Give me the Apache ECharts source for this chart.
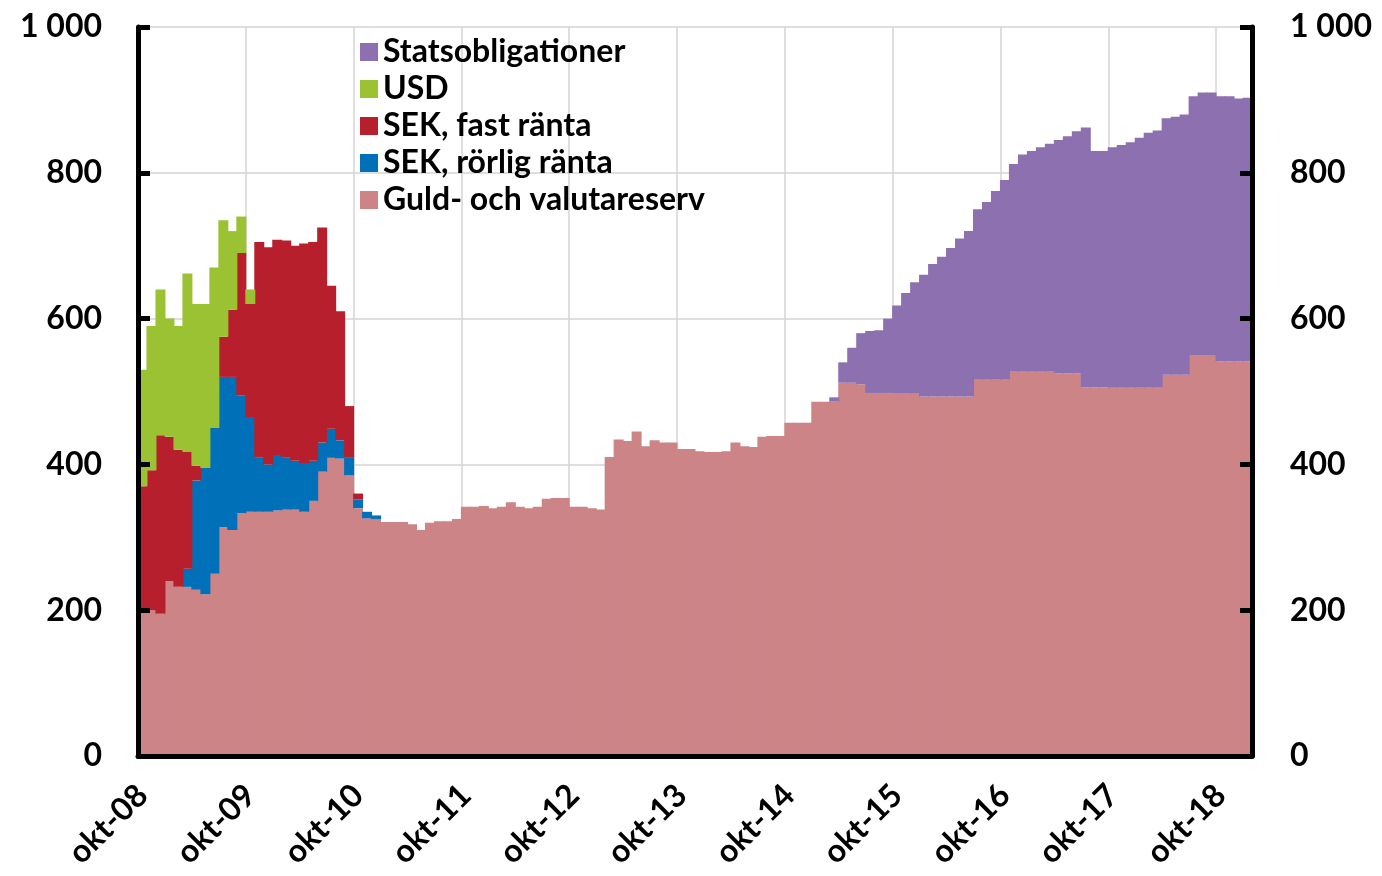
<!DOCTYPE html>
<html>
<head>
<meta charset="utf-8">
<script src="https://cdn.jsdelivr.net/npm/echarts@6/dist/echarts.min.js"></script>
<style>
  html, body { margin: 0; padding: 0; background: #fff; }
  #main { width: 1382px; height: 876px; }
</style>
</head>
<body>
<div id="main"></div>
<script>
'use strict';

// monthly categories okt-08 .. jan-19
const monthNames = ['jan', 'feb', 'mar', 'apr', 'maj', 'jun', 'jul', 'aug', 'sep', 'okt', 'nov', 'dec'];
const categories = [];
for (let i = 0; i < 124; i++) {
  const m = (9 + i) % 12;
  const y = 8 + Math.floor((9 + i) / 12);
  categories.push(monthNames[m] + '-' + String(y).padStart(2, '0'));
}
const tickLabels = ['okt-08', 'okt-09', 'okt-10', 'okt-11', 'okt-12', 'okt-13',
  'okt-14', 'okt-15', 'okt-16', 'okt-17', 'okt-18'];

// mdr kr
const guld = [
  200, 200, 195, 240, 232, 232, 228, 222, 250, 314, 310, 333,
  335, 335, 335, 337, 338, 338, 335, 350, 390, 409, 408, 385,
  340, 326, 325, 321, 321, 321, 318, 310, 320, 322, 322, 325,
  342, 342, 343, 340, 342, 348, 342, 340, 342, 353, 354, 354,
  342, 342, 340, 338, 410, 434, 432, 445, 425, 433, 430, 430,
  421, 421, 418, 417, 417, 418, 430, 425, 424, 438, 439, 439,
  457, 457, 457, 486, 486, 486, 512, 512, 510, 498, 498, 498,
  498, 498, 497, 493, 493, 493, 493, 493, 493, 516, 516, 516,
  516, 527, 527, 527, 527, 527, 525, 525, 525, 506, 506, 506,
  505, 505, 505, 505, 505, 505, 523, 523, 523, 550, 550, 550,
  541, 541, 541, 541
];
// the loan series start at okt-08
const sekRorlig = [
  0, 0, 0, 0, 0, 25, 150, 173, 200, 206, 210, 162,
  130, 75, 65, 76, 72, 67, 67, 55, 40, 40, 25, 25,
  12, 9, 5
];
const sekFast = [
  170, 192, 245, 198, 188, 160, 20, 0, 0, 55, 92, 195,
  155, 295, 298, 295, 297, 295, 301, 300, 295, 196, 177, 70,
  8
];
const usd = [160, 198, 200, 162, 170, 245, 222, 225, 220, 160, 108, 50, 20];
// statsobligationer start in mar-15 (index 77)
const statsStart = 77;
const stats = [
  6, 28, 48, 70, 85, 86, 102, 120, 137, 153, 167, 182,
  192, 204, 217, 227, 234, 244, 259, 274, 285, 298, 303, 308,
  313, 320, 325, 332, 356, 324, 324, 330, 333, 337, 343, 350,
  353, 352, 354, 357, 355, 360, 360, 364, 364, 361, 362
];

const noZero = arr => arr.map(v => (v ? v : null));
const statsData = categories.map((c, i) => (i < statsStart ? null : stats[i - statsStart]));

const labelFont = { fontFamily: 'Lato', fontWeight: 'bold', fontSize: 32, color: '#000' };
const isTick = (idx, val) => tickLabels.indexOf(val) >= 0;
const fmtY = v => String(v).replace(/\B(?=(\d{3})+(?!\d))/g, ' ');
const gridLine = { color: '#d4d4d4', width: 1.5 };
const blackLine = { color: '#000', width: 5 };

function areaSeries(name, data, color) {
  return {
    name: name,
    type: 'bar',
    stack: 'tot',
    // a bit wider than the month band so no seams show between bars
    barWidth: 10,
    xAxisIndex: 0,
    yAxisIndex: 0,
    data: data,
    itemStyle: { color: color }
  };
}

const chart = echarts.init(document.getElementById('main'));
chart.setOption({
  animation: false,
  backgroundColor: '#fff',
  grid: { left: 138, right: 130, top: 27, bottom: 120, containLabel: false },
  legend: {
    orient: 'vertical',
    left: 355,
    top: 31,
    icon: 'rect',
    itemWidth: 18,
    itemHeight: 18,
    itemGap: 5,
    textStyle: labelFont,
    data: ['Statsobligationer', 'USD', 'SEK, fast ränta', 'SEK, rörlig ränta', 'Guld- och valutareserv']
  },
  xAxis: [{
    type: 'category',
    position: 'bottom',
    data: categories,
    z: 0,
    axisLine: { show: false },
    axisTick: { show: false },
    axisLabel: { show: false },
    splitLine: { show: true, interval: isTick, lineStyle: gridLine }
  }, {
    type: 'category',
    position: 'bottom',
    data: categories,
    z: 10,
    axisLine: { lineStyle: blackLine },
    axisTick: { inside: true, length: 12, interval: isTick, lineStyle: { color: '#000', width: 4 } },
    axisLabel: Object.assign({ interval: isTick, rotate: 45, margin: 34 }, labelFont),
    splitLine: { show: false }
  }],
  yAxis: [{
    type: 'value',
    min: 0,
    max: 1000,
    interval: 200,
    z: 0,
    axisLine: { show: false },
    axisTick: { show: false },
    axisLabel: { show: false },
    splitLine: { lineStyle: gridLine }
  }, {
    type: 'value',
    position: 'left',
    min: 0,
    max: 1000,
    interval: 200,
    z: 10,
    axisLine: { show: true, lineStyle: blackLine },
    axisTick: { show: true, inside: true, length: 12, lineStyle: { color: '#000', width: 5 } },
    axisLabel: Object.assign({ margin: 36, formatter: fmtY }, labelFont),
    splitLine: { show: false }
  }, {
    type: 'value',
    position: 'right',
    min: 0,
    max: 1000,
    interval: 200,
    z: 10,
    axisLine: { show: true, lineStyle: blackLine },
    axisTick: { show: true, inside: true, length: 12, lineStyle: { color: '#000', width: 5 } },
    axisLabel: Object.assign({ margin: 38, formatter: fmtY }, labelFont),
    splitLine: { show: false }
  }],
  series: [
    areaSeries('Guld- och valutareserv', guld, '#cc8487'),
    areaSeries('SEK, rörlig ränta', noZero(sekRorlig), '#0071b9'),
    areaSeries('SEK, fast ränta', noZero(sekFast), '#b81f2d'),
    areaSeries('USD', noZero(usd), '#9bc232'),
    areaSeries('Statsobligationer', statsData, '#8c70b0')
  ]
});
</script>
</body>
</html>
